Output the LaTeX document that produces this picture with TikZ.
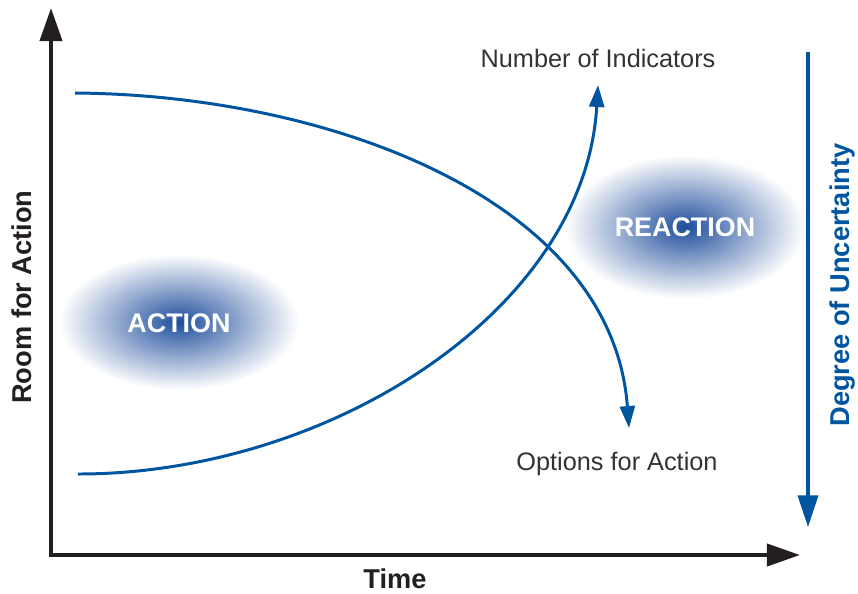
\documentclass[tikz,border=0pt]{standalone}
\usepackage{fontspec}
\setmainfont{Liberation Sans}
\usetikzlibrary{arrows.meta}
\definecolor{axisgray}{HTML}{231F20}
\definecolor{textgray}{HTML}{333333}
\definecolor{curveblue}{HTML}{0055A0}
\definecolor{blobblue}{HTML}{1F4E9C}
\tikzset{
  axis/.style={line width=2.3pt, draw=axisgray, -{Triangle[length=18.8pt,width=12.5pt]}},
  trend/.style={line width=1.7pt, draw=curveblue, -{Triangle[length=12.5pt,width=8.5pt]}},
  axislabel/.style={font=\fontsize{15.5}{18}\selectfont\bfseries, text=axisgray},
  trendlabel/.style={font=\fontsize{14.4}{17}\selectfont, text=textgray},
  bloblabel/.style={font=\fontsize{15.3}{18}\selectfont\bfseries, text=white}
}

\begin{document}
\begin{tikzpicture}[x=0.02cm, y=-0.02cm]
    \useasboundingbox (0,0) rectangle (858,593);
    % fuzzy regions
    \shade [inner color=blobblue, outer color=white] (179,322) ellipse [x radius=120, y radius=68];
    \shade [inner color=blobblue, outer color=white] (685,227) ellipse [x radius=120, y radius=72];
    \node [bloblabel] (action) at (179,323) {ACTION};
    \node [bloblabel] (reaction) at (685,227) {REACTION};
    % axes
    \coordinate (origin) at (51,555);
    \coordinate (ytip) at (51,8);
    \coordinate (xtip) at (800,555);
    \draw [axis] ([yshift=-1.15pt]origin) -- (ytip);
    \draw [axis] ([xshift=-1.15pt]origin) -- (xtip);
    \node [axislabel, rotate=90] (room) at (22,297) {Room for Action};
    \node [axislabel] (time) at (395,579) {Time};
    % uncertainty
    \coordinate (utop) at (808,52);
    \coordinate (ubottom) at (808,527);
    \draw [line width=2pt, draw=curveblue, -{Triangle[length=18pt,width=11.4pt]}] (utop) -- (ubottom);
    \node [axislabel, text=curveblue, rotate=90] (uncert) at (843,285) {Degree of Uncertainty};
    % curves
    \coordinate (optstart) at (75,93);
    \coordinate (optend) at (629,428);
    \coordinate (indstart) at (78,474);
    \coordinate (indend) at (598,85);
    \draw [trend] (optstart) .. controls (330,95) and (612,200) .. (optend);
    \draw [trend] (indstart) .. controls (330,474) and (585,310) .. (indend);
    \node [trendlabel] (indicators) at (598,58) {Number of Indicators};
    \node [trendlabel] (options) at (617,464) {Options for Action};
\end{tikzpicture}
\end{document}
